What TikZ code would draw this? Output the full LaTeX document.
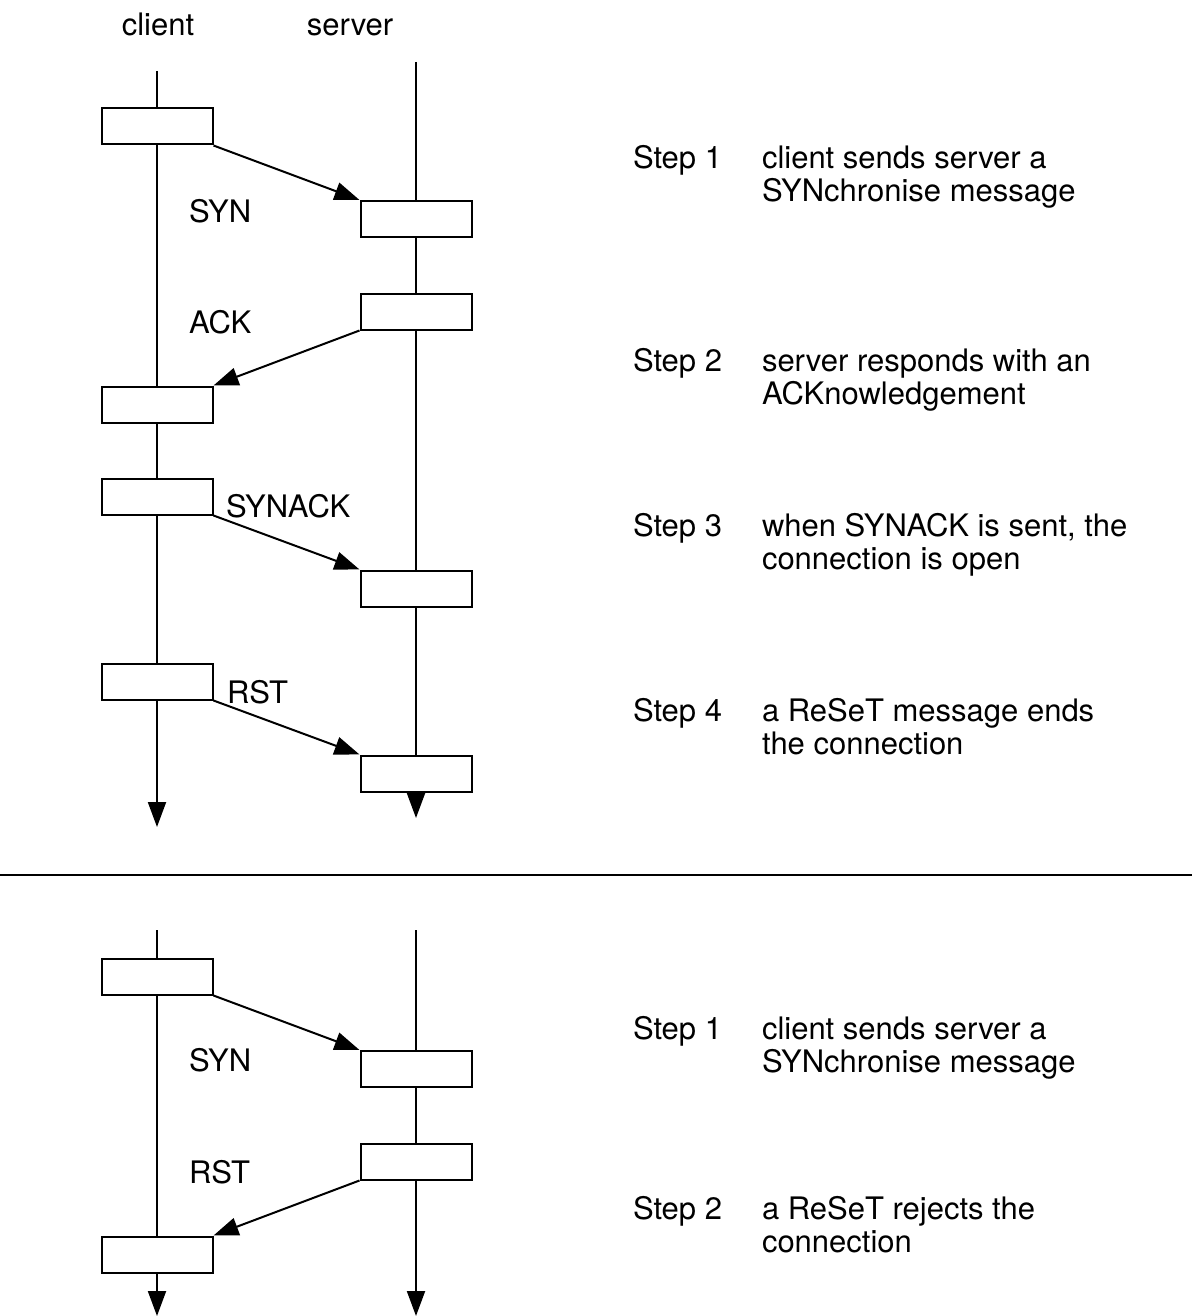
\documentclass[tikz,border=0pt]{standalone}
\usepackage{fontspec}
\setmainfont{TeX Gyre Heros}
\usetikzlibrary{arrows.meta}

\begin{document}
\begin{tikzpicture}[x=0.5pt, y=-0.5pt, line width=1pt,
	msgbox/.style={draw, fill=white, minimum width=55.5pt, minimum height=18pt, inner sep=0pt},
	msg/.style={-{Triangle[length=12.5pt, width=9pt]}},
	lbl/.style={font=\fontsize{15.5}{16.5}\selectfont, inner sep=0pt, anchor=base west},
	txt/.style={lbl, align=left}]
	\useasboundingbox (0,0) rectangle (1192,1316);

	\node[lbl, anchor=base] (client) at (158,36) {client};
	\node[lbl, anchor=base] (server) at (350,36) {server};

	% open, ack, open, reset
	\coordinate (ctop) at (157,71);  \coordinate (cend) at (157,827);
	\coordinate (srvtop) at (416,62); \coordinate (srvend) at (416,818);
	\draw[msg] (ctop) -- (cend);
	\draw[msg] (srvtop) -- (srvend);

	\node[msgbox] (c1) at (157,126.5) {};
	\node[msgbox] (s1) at (416,219) {};
	\node[msgbox] (s2) at (416,311.5) {};
	\node[msgbox] (c2) at (157,404.5) {};
	\node[msgbox] (c3) at (157,496.5) {};
	\node[msgbox] (s3) at (416,588.5) {};
	\node[msgbox] (c4) at (157,681.5) {};
	\node[msgbox] (s4) at (416,773.5) {};

	\draw[msg] (c1.south east) -- (s1.north west);
	\draw[msg] (s2.south west) -- (c2.north east);
	\draw[msg] (c3.south east) -- (s3.north west);
	\draw[msg] (c4.south east) -- (s4.north west);

	\node[lbl] (syn) at (188,223) {SYN};
	\node[lbl] (ack) at (188,333) {ACK};
	\node[lbl] (synack) at (225,517) {SYNACK};
	\node[lbl] (rst) at (226,703) {RST};

	% base of a two-line text = its second line
	\node[lbl] (step1) at (632,169) {Step 1};
	\node[txt] (desc1) at (761,202) {client sends server a\\SYNchronise message};
	\node[lbl] (step2) at (632,371) {Step 2};
	\node[txt] (desc2) at (761,404) {server responds with an\\ACKnowledgement};
	\node[lbl] (step3) at (632,536) {Step 3};
	\node[txt] (desc3) at (761,569) {when SYNACK is sent, the\\connection is open};
	\node[lbl] (step4) at (632,721) {Step 4};
	\node[txt] (desc4) at (761,754) {a ReSeT message ends\\the connection};

	\draw[line width=1.2pt] (0,875) -- (1192,875);

	% open, reset
	\begin{scope}[shift={(0,850)}]
		\coordinate (bctop) at (157,80);  \coordinate (bcend) at (157,466);
		\coordinate (bstop) at (416,80);  \coordinate (bsend) at (416,466);
		\draw[msg] (bctop) -- (bcend);
		\draw[msg] (bstop) -- (bsend);

		\node[msgbox] (bc1) at (157,126.5) {};
		\node[msgbox] (bs1) at (416,219) {};
		\node[msgbox] (bs2) at (416,311.5) {};
		\node[msgbox] (bc2) at (157,404.5) {};

		\draw[msg] (bc1.south east) -- (bs1.north west);
		\draw[msg] (bs2.south west) -- (bc2.north east);

		\node[lbl] (bsyn) at (188,221) {SYN};
		\node[lbl] (brst) at (188,333) {RST};

		\node[lbl] (bstep1) at (632,189) {Step 1};
		\node[txt] (bdesc1) at (761,222) {client sends server a\\SYNchronise message};
		\node[lbl] (bstep2) at (632,369) {Step 2};
		\node[txt] (bdesc2) at (761,402) {a ReSeT rejects the\\connection};
	\end{scope}
\end{tikzpicture}
\end{document}
